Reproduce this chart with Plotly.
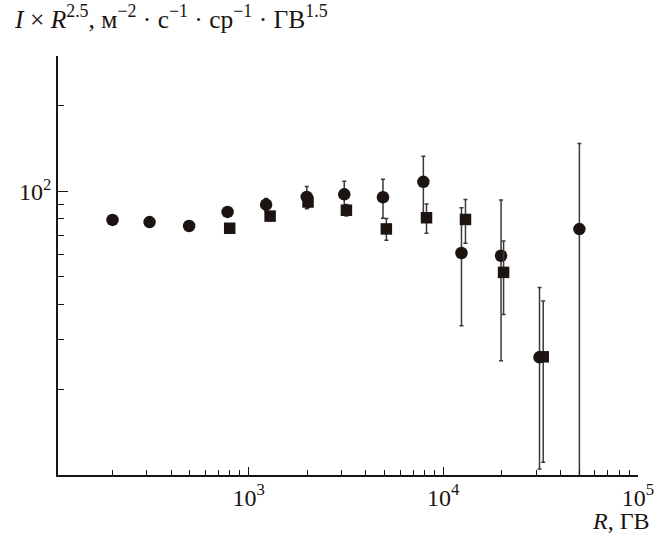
import math
import plotly.graph_objects as go

# ---- data ----
circle_R = [200, 310, 495, 780, 1230, 1990, 3100, 4900, 7900, 12400, 19800, 31200, 50000]
circle_I = [79.3, 77.9, 75.5, 84.6, 89.8, 95.5, 97.6, 95.3, 108, 60.6, 59.3, 26.0, 73.6]
circle_err_plus = [0, 0, 0, 0, 4.5, 8.6, 11, 15, 25, 27, 34, 19.8, 74]
circle_err_minus = [0, 0, 0, 0, 4.5, 8.6, 11, 15, 25, 27, 34, 15.5, 72]

square_R = [800, 1290, 2020, 3180, 5100, 8200, 13000, 20400, 32600]
square_I = [74.1, 81.8, 91.7, 85.8, 73.7, 80.7, 79.6, 51.8, 26.1]
square_err = [2, 3, 4, 4, 6.5, 9.5, 14, 15, 15]

x_major_vals = [1e3, 1e4, 1e5]
x_major_text = ["10<sup>3</sup>", "10<sup>4</sup>", "10<sup>5</sup>"]
x_minor_vals = [m * 10 ** e for e in (2, 3, 4) for m in range(2, 10)]
y_major_vals = [100]
y_major_text = ["10<sup>2</sup>"]
y_minor_vals = [20, 30, 40, 50, 60, 70, 80, 90, 200, 300]

y_title = ("<i>I</i> × <i>R</i><sup>2.5</sup>, м<sup>−2</sup> · с<sup>−1</sup> · "
           "ср<sup>−1</sup> · ГВ<sup>1.5</sup>")
x_title = "<i>R</i>, ГВ"

INK = "#1c1410"
BAR = "#3a3a3a"
FONT = "Liberation Serif"

fig = go.Figure()
fig.add_trace(go.Scatter(
    x=circle_R, y=circle_I, mode="markers",
    marker=dict(symbol="circle", size=12.5, color=INK),
    error_y=dict(type="data", symmetric=False, array=circle_err_plus,
                 arrayminus=circle_err_minus, color=BAR, thickness=1.5, width=2),
    showlegend=False,
))
fig.add_trace(go.Scatter(
    x=square_R, y=square_I, mode="markers",
    marker=dict(symbol="square", size=11.5, color=INK),
    error_y=dict(type="data", array=square_err, color=BAR, thickness=1.5, width=2),
    showlegend=False,
))

fig.update_layout(
    width=656, height=540,
    margin=dict(l=58, r=18, t=56, b=65, autoexpand=False),
    paper_bgcolor="white", plot_bgcolor="white",
    font=dict(family=FONT, size=24, color=INK),
    xaxis=dict(
        type="log", range=[math.log10(105), 5], automargin=False,
        showgrid=False, zeroline=False,
        showline=True, linecolor=INK, linewidth=1.5,
        ticks="inside", ticklen=8, tickwidth=1.3, tickcolor=INK,
        tickvals=x_major_vals, ticktext=x_major_text,
        tickfont=dict(family=FONT, size=24, color=INK),
        minor=dict(tickvals=x_minor_vals, ticks="inside", ticklen=5,
                   tickwidth=1.3, tickcolor=INK, showgrid=False),
    ),
    yaxis=dict(
        type="log", range=[1, math.log10(300)], automargin=False,
        showgrid=False, zeroline=False,
        showline=True, linecolor=INK, linewidth=1.5,
        ticks="inside", ticklen=10, tickwidth=1.3, tickcolor=INK,
        tickvals=y_major_vals, ticktext=y_major_text,
        tickfont=dict(family=FONT, size=24, color=INK),
        minor=dict(tickvals=y_minor_vals, ticks="inside", ticklen=6,
                   tickwidth=1.3, tickcolor=INK, showgrid=False),
    ),
    annotations=[
        dict(text=y_title, xref="paper", yref="paper", x=-0.079, y=1.0,
             yshift=39, xanchor="left", yanchor="middle", showarrow=False,
             font=dict(family=FONT, size=25.5, color=INK)),
        dict(text=x_title, xref="paper", yref="paper", x=1.024, y=0,
             yshift=-46, xanchor="right", yanchor="middle", showarrow=False,
             font=dict(family=FONT, size=24, color=INK)),
    ],
)

fig.write_html(
    "out.html",
    config={"displayModeBar": False},
    post_script="document.body.style.margin='0';document.body.style.overflow='hidden';",
)
